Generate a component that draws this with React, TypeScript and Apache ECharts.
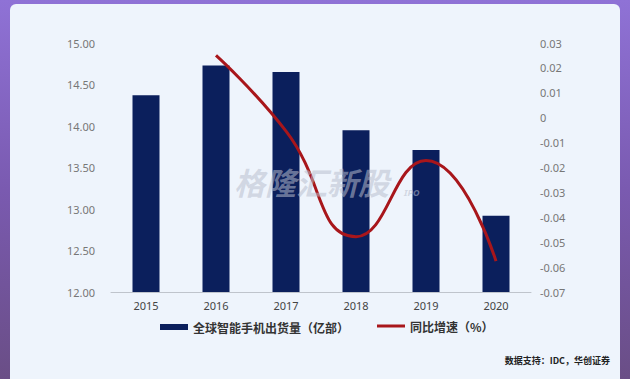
import React, { useEffect, useRef } from "react";
import * as echarts from "echarts";

const years = ["2015", "2016", "2017", "2018", "2019", "2020"];
const shipments = [14.37, 14.73, 14.65, 13.95, 13.71, 12.92];
const growth: (number | null)[] = [null, 0.025, -0.0054, -0.0478, -0.0172, -0.0576];
const barName = "全球智能手机出货量（亿部）";
const lineName = "同比增速（%）";
const sourceText = "数据支持：IDC，华创证券";
const watermark = "格隆汇新股";

export default function App() {
  const ref = useRef<HTMLDivElement>(null);
  useEffect(() => {
    if (!ref.current) return;
    const chart = echarts.init(ref.current, undefined, { renderer: "svg" });
    const legendText = {
      color: "#333",
      fontSize: 12,
      fontWeight: "bold",
      fontFamily: "'Noto Sans CJK SC'",
    };
    chart.setOption({
      animation: false,
      graphic: [
        {
          type: "rect",
          z: -10,
          shape: { x: 10, y: 4, width: 610, height: 400, r: 6 },
          style: { fill: "#eef4fc" },
        },
        {
          type: "text",
          x: 234,
          y: 166,
          z: 100,
          style: {
            text: watermark,
            fill: "rgba(185,190,205,0.55)",
            font: "italic bold 31px 'Noto Sans CJK SC'",
          },
        },
        {
          type: "text",
          x: 404,
          y: 188,
          z: 100,
          style: {
            text: "IPO",
            fill: "rgba(185,190,205,0.55)",
            font: "italic bold 9px 'Noto Sans'",
          },
        },
        {
          type: "text",
          right: 20,
          top: 356,
          style: {
            text: sourceText,
            fill: "#222",
            font: "bold 9px 'Noto Sans CJK SC'",
          },
        },
      ],
      grid: { left: 111, right: 99, top: 43, bottom: 87 },
      legend: [
        {
          bottom: 41,
          left: 155,
          itemWidth: 28,
          itemHeight: 6,
          icon: "rect",
          textStyle: legendText,
          data: [barName],
        },
        {
          bottom: 42,
          left: 372,
          itemWidth: 28,
          itemHeight: 3,
          icon: "rect",
          textStyle: legendText,
          data: [lineName],
        },
      ],
      xAxis: {
        type: "category",
        data: years,
        axisLine: { onZero: false, lineStyle: { color: "#bfc4cc" } },
        axisTick: { show: false },
        axisLabel: { color: "#444", fontSize: 11, margin: 8, fontFamily: "'Noto Sans'" },
      },
      yAxis: [
        {
          type: "value",
          min: 12,
          max: 15,
          interval: 0.5,
          axisLine: { show: false },
          axisTick: { show: false },
          splitLine: { show: false },
          axisLabel: {
            color: "#777",
            fontSize: 11,
            margin: 16,
            fontFamily: "'Noto Sans'",
            formatter: (v: number) => v.toFixed(2),
          },
        },
        {
          type: "value",
          min: -0.07,
          max: 0.03,
          interval: 0.01,
          axisLine: { show: false },
          axisTick: { show: false },
          splitLine: { show: false },
          axisLabel: {
            color: "#777",
            fontSize: 11,
            margin: 9,
            fontFamily: "'Noto Sans'",
            formatter: (v: number) => (Math.abs(v) < 1e-9 ? "0" : v.toFixed(2)),
          },
        },
      ],
      series: [
        {
          name: barName,
          type: "bar",
          data: shipments,
          barWidth: 27,
          itemStyle: { color: "#0b1f5c" },
          z: 2,
        },
        {
          name: lineName,
          type: "line",
          yAxisIndex: 1,
          data: growth,
          smooth: true,
          showSymbol: false,
          symbol: "none",
          lineStyle: { color: "#a8161b", width: 3 },
          itemStyle: { color: "#a8161b" },
          z: 3,
        },
      ],
    });
    return () => chart.dispose();
  }, []);
  return (
    <div
      style={{
        position: "fixed",
        left: 0,
        top: 0,
        width: 630,
        height: 379,
        background: "linear-gradient(180deg, #8f72d6 0%, #7a5ab0 50%, #6a4e86 100%)",
      }}
    >
      <div ref={ref} style={{ width: 630, height: 379 }} />
    </div>
  );
}
